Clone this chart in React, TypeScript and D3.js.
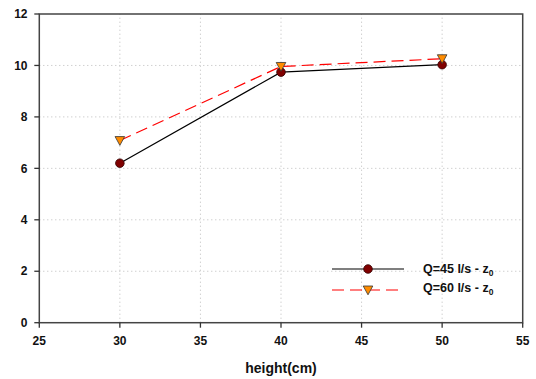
import React from "react";
import * as d3 from "d3";

const heights = [30, 40, 50];
const q45 = [6.2, 9.74, 10.03];
const q60 = [7.08, 9.96, 10.26];
const xTicks = [25, 30, 35, 40, 45, 50, 55];
const yTicks = [0, 2, 4, 6, 8, 10, 12];
const seriesNames = ["Q=45 l/s - z", "Q=60 l/s - z"];

const W = 536, H = 379;
const M = { left: 39.3, right: 13.3, top: 14, bottom: 56.3 };

export default function App() {
  const x = d3.scaleLinear().domain([25, 55]).range([M.left, W - M.right]);
  const y = d3.scaleLinear().domain([0, 12]).range([H - M.bottom, M.top]);
  const line = d3.line<[number, number]>().x(d => x(d[0])).y(d => y(d[1]));
  const d45 = heights.map((h, i) => [h, q45[i]] as [number, number]);
  const d60 = heights.map((h, i) => [h, q60[i]] as [number, number]);
  const font = "Arial, 'Liberation Sans', sans-serif";
  const tri = (cx: number, cy: number) => `M${cx - 4.8},${cy - 4}L${cx + 4.8},${cy - 4}L${cx},${cy + 4.8}Z`;
  const x0 = x(25), x1 = x(55), y0 = y(0), y1 = y(12);
  const lx = 332, lmx = 368;
  const ly1 = 269, ly2 = 290;
  return (
    <svg width={W} height={H} style={{ position: "absolute", left: 0, top: 0, background: "#fff" }} fontFamily={font}>
      {xTicks.slice(1, -1).map(t => (
        <line key={"gx" + t} x1={x(t)} x2={x(t)} y1={y0} y2={y1} stroke="#bbb" strokeWidth={1} strokeDasharray="1,3" />
      ))}
      {yTicks.slice(1, -1).map(t => (
        <line key={"gy" + t} x1={x0} x2={x1} y1={y(t)} y2={y(t)} stroke="#bbb" strokeWidth={1} strokeDasharray="1,3" />
      ))}
      <rect x={x0} y={y1} width={x1 - x0} height={y0 - y1} fill="none" stroke="#444" strokeWidth={1.5} />
      {xTicks.map(t => (
        <g key={"xt" + t}>
          <line x1={x(t)} x2={x(t)} y1={y0} y2={y0 + 5} stroke="#333" strokeWidth={1.3} />
          <text x={x(t)} y={345} textAnchor="middle" fontSize={12} fontWeight="bold" fill="#111">{t}</text>
        </g>
      ))}
      {yTicks.map(t => (
        <g key={"yt" + t}>
          <line x1={x0 - 5} x2={x0} y1={y(t)} y2={y(t)} stroke="#333" strokeWidth={1.3} />
          <text x={27.5} y={y(t) + 4.2} textAnchor="end" fontSize={12} fontWeight="bold" fill="#111">{t}</text>
        </g>
      ))}
      <text x={(x0 + x1) / 2} y={372.7} textAnchor="middle" fontSize={14} fontWeight="bold" fill="#111">height(cm)</text>
      <path d={line(d45) || ""} fill="none" stroke="#000" strokeWidth={1.2} />
      <path d={line(d60) || ""} fill="none" stroke="#f00" strokeWidth={1.2} strokeDasharray="12,6" />
      {d45.map((d, i) => (
        <circle key={"c" + i} cx={x(d[0])} cy={y(d[1])} r={4.3} fill="#800000" stroke="#300" strokeWidth={0.8} />
      ))}
      {d60.map((d, i) => (
        <path key={"t" + i} d={tri(x(d[0]), y(d[1]))} fill="#ff8c00" stroke="#333" strokeWidth={0.8} />
      ))}
      <line x1={lx} x2={404} y1={ly1} y2={ly1} stroke="#000" strokeWidth={1.2} />
      <circle cx={lmx} cy={ly1} r={4.3} fill="#800000" stroke="#300" strokeWidth={0.8} />
      <line x1={lx} x2={398} y1={ly2} y2={ly2} stroke="#f00" strokeWidth={1.2} strokeDasharray="12,6" />
      <path d={tri(lmx, ly2)} fill="#ff8c00" stroke="#333" strokeWidth={0.8} />
      {seriesNames.map((n, i) => (
        <text key={"l" + i} x={423} y={i === 0 ? 273 : 292} fontSize={12.5} fontWeight="bold" fill="#111">
          {n}<tspan fontSize={8.5} dy={3}>0</tspan>
        </text>
      ))}
    </svg>
  );
}
